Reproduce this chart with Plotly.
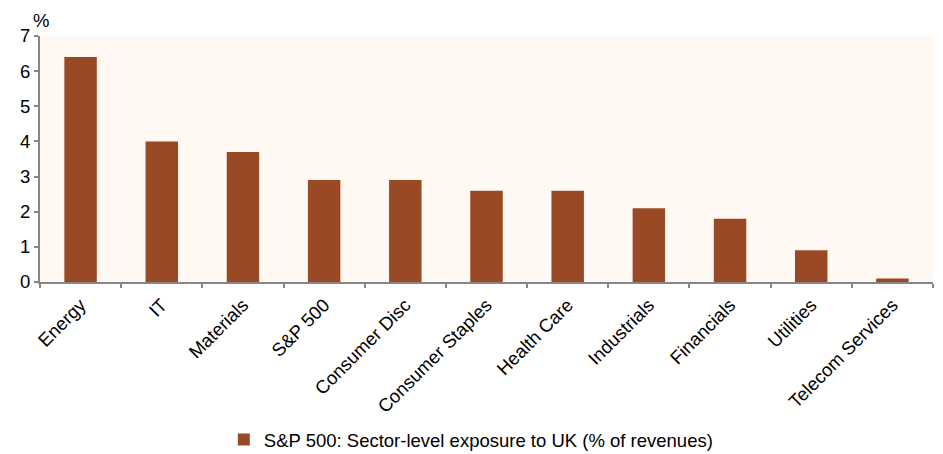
import plotly.graph_objects as go

categories = ["Energy", "IT", "Materials", "S&P 500", "Consumer Disc", "Consumer Staples",
              "Health Care", "Industrials", "Financials", "Utilities", "Telecom Services"]
values = [6.4, 4.0, 3.7, 2.9, 2.9, 2.6, 2.6, 2.1, 1.8, 0.9, 0.1]
series_name = "S&P 500: Sector-level exposure to UK (% of revenues)"
y_ticks = [0, 1, 2, 3, 4, 5, 6, 7]

fig = go.Figure()
fig.add_trace(go.Bar(x=categories, y=values, name=series_name,
                     marker=dict(color="#994A24", line=dict(width=0)),
                     showlegend=True))

FS = 18.5
fig.update_layout(
    width=935, height=446,
    margin=dict(l=32, r=10, t=28, b=172, autoexpand=False),
    paper_bgcolor="white",
    plot_bgcolor="#FFF8F3",
    bargap=0.6,
    font=dict(family="Liberation Sans, Arial, sans-serif", size=FS, color="black"),
    xaxis=dict(
        tickangle=-45, showline=True, linecolor="#868686", linewidth=2,
        ticks="outside", tickson="boundaries", ticklen=4, tickcolor="#868686", tickwidth=2,
        showgrid=False, tickfont=dict(size=FS), automargin=False, ticklabelstandoff=3,
    ),
    yaxis=dict(
        range=[0, 7], tickvals=y_ticks, showline=True, linecolor="#868686", linewidth=2,
        ticks="outside", ticklen=4, tickcolor="#868686", tickwidth=2,
        showgrid=False, zeroline=False, tickfont=dict(size=FS), automargin=False,
    ),
    legend=dict(orientation="h", x=0.483, xanchor="center", y=-0.642, yanchor="middle",
                font=dict(size=FS), itemwidth=30),
    annotations=[dict(text="%", xref="paper", yref="paper", x=0, y=1, xshift=-9, yshift=3,
                      xanchor="left", yanchor="bottom", showarrow=False, font=dict(size=FS))],
)

fig.write_html("out.html")
